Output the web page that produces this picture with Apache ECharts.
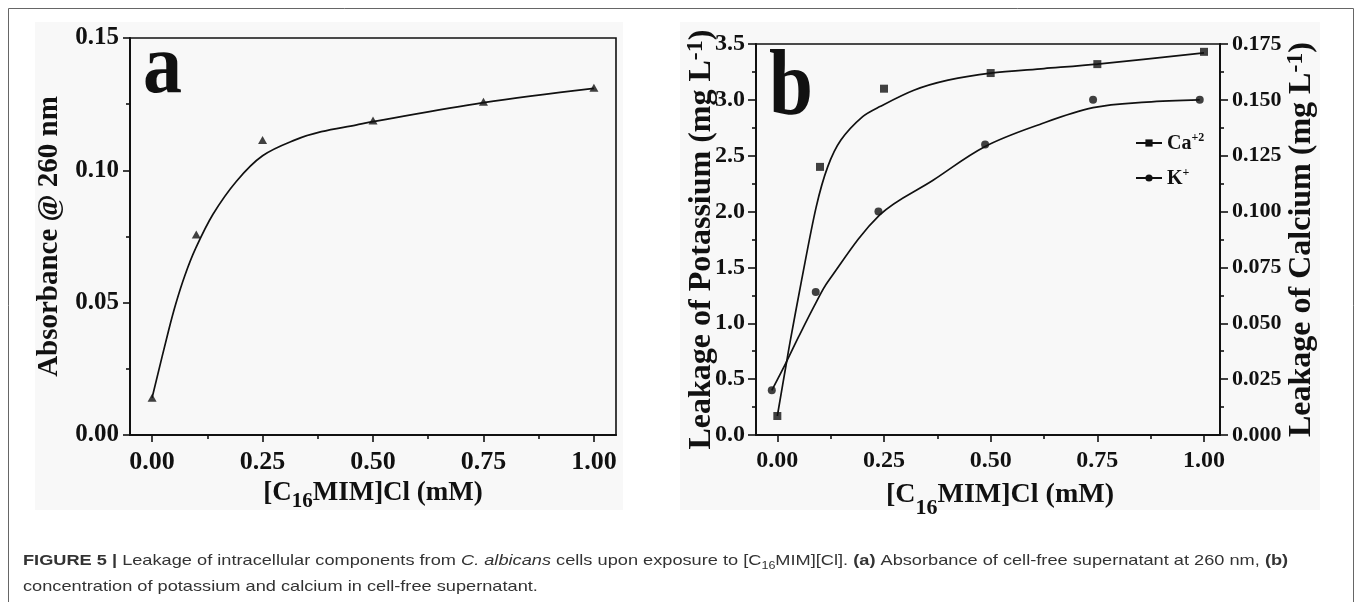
<!DOCTYPE html>
<html><head><meta charset="utf-8">
<script src="https://cdn.jsdelivr.net/npm/echarts@6/dist/echarts.min.js"></script>
<style>html,body{margin:0;padding:0;background:#fff}#c{width:1357px;height:602px}</style>
</head><body><div id="c"></div>
<script>
// ---- tick values ----
const xTicks = [0, 0.25, 0.5, 0.75, 1.0];
const xMinorTicks = [0.125, 0.375, 0.625, 0.875];
// ---- panel a: absorbance @260 nm ----
const aX = [0, 0.1, 0.25, 0.5, 0.75, 1.0];
const aY = [0.0141, 0.0758, 0.1115, 0.1188, 0.1259, 0.1312];
const aFitX = [0, 0.0375, 0.054, 0.074, 0.098, 0.1375, 0.191, 0.25, 0.324, 0.383, 0.461, 0.5, 0.75, 1.0];
const aFitY = [0.0141, 0.0396, 0.0498, 0.0602, 0.0703, 0.0833, 0.0959, 0.1055, 0.1115, 0.1146, 0.1171, 0.1184, 0.1256, 0.131];
// ---- panel b: Ca (right axis, mg/L) and K (left axis, mg/L) ----
const caX = [0, 0.1, 0.25, 0.5, 0.75, 1.0];
const caY = [0.0085, 0.120, 0.155, 0.162, 0.166, 0.1715];
const kX = [-0.013, 0.09, 0.237, 0.487, 0.74, 0.99];
const kY = [0.4, 1.28, 2.0, 2.6, 3.0, 3.0];
const caFitX = [0, 0.022, 0.030, 0.057, 0.091, 0.118, 0.149, 0.20, 0.2405, 0.32, 0.40, 0.5, 0.625, 0.75, 1.0];
const caFitY = [0.0085, 0.0330, 0.0418, 0.0694, 0.102, 0.120, 0.132, 0.1425, 0.147, 0.1543, 0.1588, 0.162, 0.164, 0.166, 0.171];
const kFitX = [-0.013, 0.022, 0.05, 0.09, 0.118, 0.24, 0.365, 0.486, 0.615, 0.74, 0.865, 0.99];
const kFitY = [0.4, 0.66, 0.88, 1.18, 1.37, 1.97, 2.28, 2.58, 2.78, 2.93, 2.98, 3.0];

const zip = (xs, ys) => xs.map((x, i) => [x, ys[i]]);
const K = '#111';
const SERIF = '"Liberation Serif","Times New Roman",serif';
const SANS = '"Liberation Sans",Arial,sans-serif';

function xMain(grid, min, max, fs, nameRich, gap, pad) {
  return {
    type: 'value', gridIndex: grid, min: min, max: max, position: 'bottom',
    axisLine: {show: true, onZero: false, lineStyle: {color: K, width: 2}},
    axisTick: {show: true, customValues: xTicks, length: 7, lineStyle: {color: K, width: 1.6}},
    axisLabel: {show: true, customValues: xTicks, margin: 14, formatter: v => v.toFixed(2),
      fontFamily: SERIF, fontWeight: 'bold', fontSize: fs, color: K},
    splitLine: {show: false},
    name: '{n|[C}{s|16}{n|MIM]Cl (mM)}', nameLocation: 'middle', nameGap: gap, nameMoveOverlap: false,
    nameTextStyle: {rich: nameRich, padding: pad || 0}
  };
}
function xMinor(grid, min, max) {
  return {
    type: 'value', gridIndex: grid, min: min, max: max, position: 'bottom',
    axisLine: {show: false, onZero: false},
    axisTick: {show: true, customValues: xMinorTicks, length: 4, lineStyle: {color: K, width: 1.6}},
    axisLabel: {show: false}, splitLine: {show: false}
  };
}
function yAx(grid, pos, max, interval, dec, fs, margin, tickLen) {
  return {
    type: 'value', gridIndex: grid, position: pos, min: 0, max: max, interval: interval,
    axisLine: {show: true, onZero: false, lineStyle: {color: K, width: 2}},
    axisTick: {show: true, length: tickLen, lineStyle: {color: K, width: 1.6}},
    minorTick: {show: true, splitNumber: 2, length: 4, lineStyle: {color: K, width: 1.6}},
    axisLabel: {margin: margin, formatter: v => v.toFixed(dec), fontFamily: SERIF, fontWeight: 'bold', fontSize: fs, color: K},
    splitLine: {show: false}, minorSplitLine: {show: false}, nameMoveOverlap: false
  };
}
const richA = {
  n: {fontFamily: SERIF, fontWeight: 'bold', fontSize: 27, lineHeight: 30, color: K, verticalAlign: 'top'},
  s: {fontFamily: SERIF, fontWeight: 'bold', fontSize: 21, lineHeight: 21, color: K, verticalAlign: 'top', padding: [11, 0, 0, 0]}
};
const richB = {
  n: {fontFamily: SERIF, fontWeight: 'bold', fontSize: 28, lineHeight: 30, color: K, verticalAlign: 'top'},
  s: {fontFamily: SERIF, fontWeight: 'bold', fontSize: 22, lineHeight: 22, color: K, verticalAlign: 'top', padding: [16, 0, 0, 0]}
};
const richY = {
  n: {fontFamily: SERIF, fontWeight: 'bold', fontSize: 32, lineHeight: 34, color: K, verticalAlign: 'bottom'},
  p: {fontFamily: SERIF, fontWeight: 'bold', fontSize: 24, lineHeight: 24, color: K, verticalAlign: 'top', padding: [0, 0, 14, 0]}
};

const yA = yAx(0, 'left', 0.15, 0.05, 2, 25, 11, 7);
yA.name = 'Absorbance @ 260 nm'; yA.nameLocation = 'middle'; yA.nameRotate = 90; yA.nameGap = 66;
yA.nameTextStyle = {fontFamily: SERIF, fontWeight: 'bold', fontSize: 29, color: K};
const yBL = yAx(1, 'left', 3.5, 0.5, 1, 24, 11, 8);
yBL.name = '{n|Leakage of Potassium (mg L}{p|-1}{n|)}'; yBL.nameLocation = 'middle'; yBL.nameRotate = 90; yBL.nameGap = 38;
yBL.nameTextStyle = {rich: richY};
const yBR = yAx(1, 'right', 0.175, 0.025, 3, 22, 12, 8);
yBR.name = '{n|Leakage of Calcium (mg L}{p|-1}{n|)}'; yBR.nameLocation = 'middle'; yBR.nameRotate = 90; yBR.nameGap = 64;
yBR.nameTextStyle = {rich: richY};

const legRich = {
  n: {fontFamily: SERIF, fontWeight: 'bold', fontSize: 20, lineHeight: 22, color: K, verticalAlign: 'bottom'},
  p: {fontFamily: SERIF, fontWeight: 'bold', fontSize: 12, lineHeight: 12, color: K, verticalAlign: 'top', padding: [0, 0, 12, 0]}
};
const legFmt = name => name === 'Ca+2' ? '{n|Ca}{p|+2}' : '{n|K}{p|+}';
function leg(name, top) {
  return {data: [name], left: 1135, top: top, padding: 0, itemWidth: 26, itemHeight: 9,
    formatter: legFmt, textStyle: {rich: legRich}, selectedMode: false};
}

const capStyle = (extra) => Object.assign({fontFamily: SANS, fontSize: 14.5, lineHeight: 18, fill: '#333', color: '#333', verticalAlign: 'top'}, extra || {});
const capRich = {
  n: capStyle(),
  b: capStyle({fontWeight: 'bold'}),
  i: capStyle({fontStyle: 'italic'}),
  s: capStyle({fontSize: 10, lineHeight: 10, padding: [8, 0, 0, 0]})
};
const cap1 = '{b|FIGURE 5 |}{n| Leakage of intracellular components from }{i|C. albicans}{n| cells upon exposure to [C}{s|16}{n|MIM][Cl]. }{b|(a)}{n| Absorbance of cell-free supernatant at 260 nm, }{b|(b)}';
const cap2 = '{n|concentration of potassium and calcium in cell-free supernatant.}';

const chart = echarts.init(document.getElementById('c'), null, {renderer: 'canvas'});
chart.setOption({
  backgroundColor: '#fff',
  animation: false,
  grid: [
    {left: 130, top: 38, width: 486, height: 397, show: true, borderColor: K, borderWidth: 1.6, backgroundColor: 'transparent', containLabel: false},
    {left: 756, top: 44, width: 464, height: 391, show: true, borderColor: K, borderWidth: 1.6, backgroundColor: 'transparent', containLabel: false}
  ],
  xAxis: [
    xMain(0, -0.05, 1.05, 26, richA, 45),
    xMinor(0, -0.05, 1.05),
    xMain(1, -0.05, 1.0375, 24, richB, 46, [0, 0, 0, 24]),
    xMinor(1, -0.05, 1.0375)
  ],
  yAxis: [yA, yBL, yBR],
  legend: [leg('Ca+2', 132), leg('K+', 167)],
  series: [
    {type: 'line', xAxisIndex: 0, yAxisIndex: 0, data: zip(aFitX, aFitY), smooth: 0.35,
      symbol: 'none', showSymbol: false, lineStyle: {color: K, width: 1.7}, itemStyle: {color: K}, silent: true, z: 2},
    {type: 'scatter', xAxisIndex: 0, yAxisIndex: 0, data: zip(aX, aY), symbol: 'triangle', symbolSize: [9, 8],
      itemStyle: {color: K}, z: 3},
    {name: 'Ca+2', type: 'line', xAxisIndex: 2, yAxisIndex: 2, data: zip(caFitX, caFitY), smooth: 0.3,
      symbol: 'rect', showSymbol: false, lineStyle: {color: K, width: 1.7}, itemStyle: {color: K}, silent: true, z: 2},
    {name: 'K+', type: 'line', xAxisIndex: 2, yAxisIndex: 1, data: zip(kFitX, kFitY), smooth: 0.35,
      symbol: 'circle', showSymbol: false, lineStyle: {color: K, width: 1.7}, itemStyle: {color: K}, silent: true, z: 2},
    {type: 'scatter', xAxisIndex: 2, yAxisIndex: 2, data: zip(caX, caY), symbol: 'rect', symbolSize: 8,
      itemStyle: {color: K}, z: 3},
    {type: 'scatter', xAxisIndex: 2, yAxisIndex: 1, data: zip(kX, kY), symbol: 'circle', symbolSize: 8,
      itemStyle: {color: K}, z: 3}
  ],
  graphic: [
    {type: 'rect', z: -10, silent: true, shape: {x: 35, y: 22, width: 588, height: 488}, style: {fill: '#f8f8f8'}},
    {type: 'rect', z: -10, silent: true, shape: {x: 680, y: 22, width: 640, height: 488}, style: {fill: '#f8f8f8'}},
    {type: 'rect', z: 50, silent: true, shape: {x: 8.5, y: 8.5, width: 1345, height: 640}, style: {fill: 'none', stroke: '#666', lineWidth: 1}},
    {type: 'text', z: 60, x: 143, y: 70.5, scaleX: 0.93, silent: true,
      style: {text: 'a', font: 'bold 84px ' + SERIF, fill: K, verticalAlign: 'middle', align: 'left'}},
    {type: 'text', z: 60, x: 769, y: 90, scaleX: 0.85, silent: true,
      style: {text: 'b', font: 'bold 93px ' + SERIF, fill: K, verticalAlign: 'middle', align: 'left'}},
    {type: 'text', z: 60, x: 23, y: 553, scaleX: 1.255, silent: true, style: {text: cap1, rich: capRich, fill: '#333', font: '14.5px ' + SANS}},
    {type: 'text', z: 60, x: 23, y: 579, scaleX: 1.255, silent: true, style: {text: cap2, rich: capRich, fill: '#333', font: '14.5px ' + SANS}}
  ]
});
</script></body></html>
